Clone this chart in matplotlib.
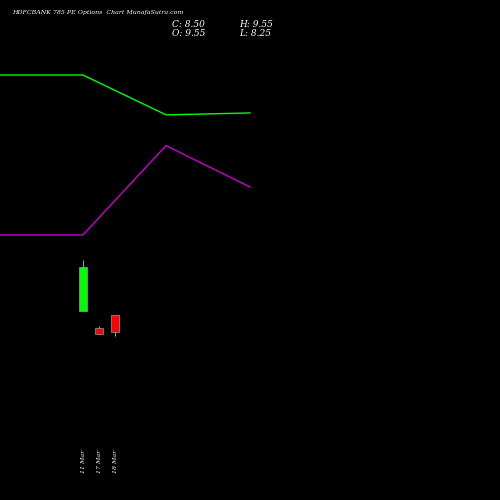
import matplotlib
matplotlib.use("Agg")
import matplotlib.pyplot as plt

dates = ["11 Mar", "17 Mar", "18 Mar"]
opens = [9.80, 8.75, 9.55]
highs = [12.95, 8.87, 9.55]
lows = [9.80, 8.38, 8.25]
closes = [12.51, 8.38, 8.50]
line_x = [-5.19, 0, 5.19, 10.44]
green_line = [24.36, 24.36, 21.90, 22.02]
purple_line = [14.49, 14.49, 20.00, 17.45]

fig = plt.figure(figsize=(5, 5), dpi=100, facecolor="black")
ax = fig.add_axes([0, 0, 1, 1])
ax.set_facecolor("black")
ax.set_xlim(-5.1875, 26.06)
ax.set_ylim(-1.87, 28.99)
ax.axis("off")

ax.plot(line_x, green_line, color="#00ff00", lw=1)
ax.plot(line_x, purple_line, color="#cc00cc", lw=1)
for i in range(3):
    col = "#00ff00" if closes[i] > opens[i] else "#ff0000"
    ax.vlines(i, lows[i], highs[i], color="#999999", lw=0.8, zorder=1)
    lo, hi = min(opens[i], closes[i]), max(opens[i], closes[i])
    ax.bar(i, hi - lo, bottom=lo, width=0.5, color=col, edgecolor="#999999", lw=0.5, zorder=2)
    ax.text(i, 0.5, dates[i], rotation=90, color="white", fontsize=4.5,
            family="DejaVu Serif", style="italic", ha="center", va="center")

fig.text(0.025, 0.975, "HDFCBANK 785 PE Options  Chart MunafaSutra.com", color="white",
         fontsize=4.5, family="DejaVu Serif", style="italic", va="center")
fig.text(0.345, 0.951, "C: 8.50", color="white", fontsize=6.5, family="DejaVu Serif", style="italic", va="center")
fig.text(0.345, 0.934, "O: 9.55", color="white", fontsize=6.5, family="DejaVu Serif", style="italic", va="center")
fig.text(0.478, 0.951, "H: 9.55", color="white", fontsize=6.5, family="DejaVu Serif", style="italic", va="center")
fig.text(0.478, 0.934, "L: 8.25", color="white", fontsize=6.5, family="DejaVu Serif", style="italic", va="center")
fig.savefig("out.png", dpi=100, facecolor="black")
